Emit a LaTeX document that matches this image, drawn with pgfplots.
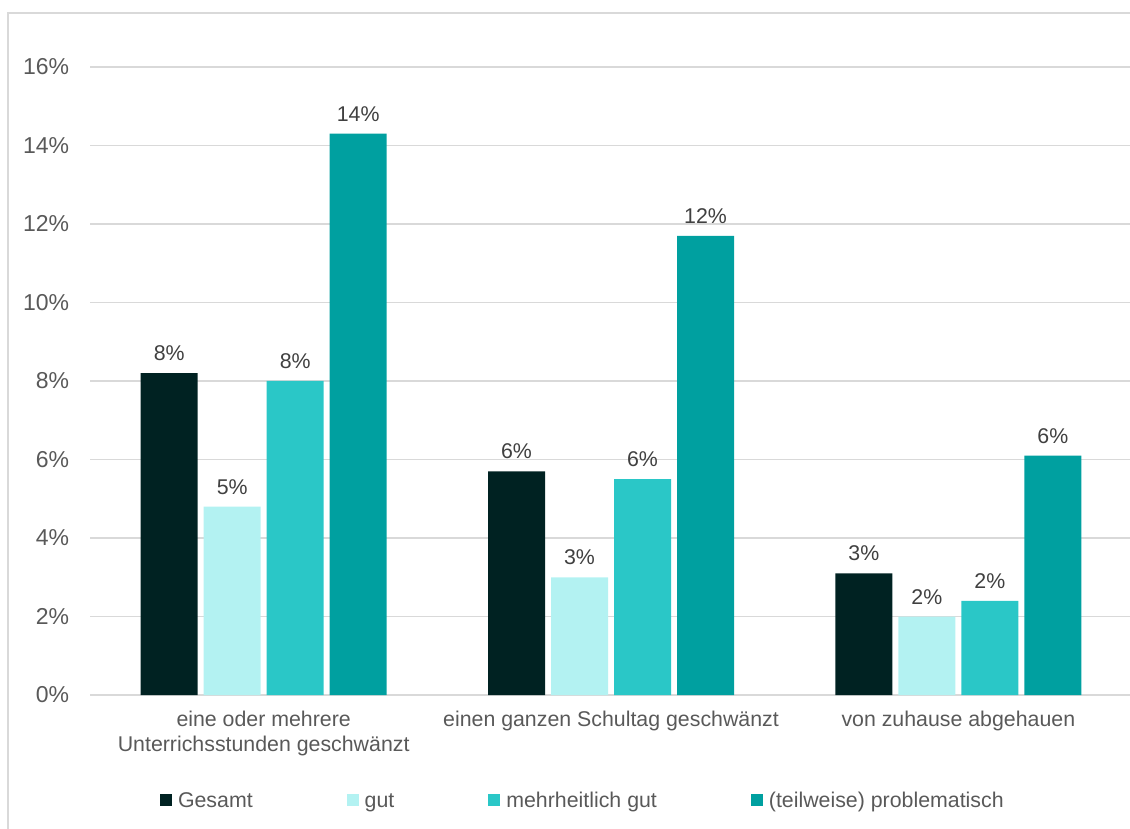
\documentclass[border=0pt]{standalone}
\usepackage{fontspec}
\setmainfont{Liberation Sans}
\usepackage{pgfplots}
\pgfplotsset{compat=1.18}
\definecolor{cGes}{HTML}{002222}
\definecolor{cGut}{HTML}{B3F2F2}
\definecolor{cMehr}{HTML}{2AC7C7}
\definecolor{cProb}{HTML}{00A0A0}
\definecolor{gridgray}{HTML}{D9D9D9}
\definecolor{txtgray}{HTML}{595959}
\definecolor{lblgray}{HTML}{404040}
\newcommand\chartfont{\fontsize{16pt}{18.75pt}\selectfont}
\newcommand\tickfont{\fontsize{17.25pt}{20pt}\selectfont}
\pgfplotsset{sqlegend/.style={legend image code/.code={\path[##1] (0pt,-4.5pt) rectangle (9pt,4.5pt);}}}
\begin{document}
\begin{tikzpicture}
\useasboundingbox (0,0) rectangle (847.5pt,621pt);
\draw[gridgray, line width=1pt] (6pt,-20pt) -- (6pt,611.25pt) -- (870pt,611.25pt);
\begin{axis}[
  at={(67.5pt,99.75pt)}, anchor=south west,
  scale only axis, width=781.5pt, height=471pt,
  xmin=-0.5, xmax=2.5, ymin=0, ymax=16,
  ybar=4.5pt, bar width=42.75pt,
  axis line style={draw=none},
  major tick length=0pt,
  ymajorgrids, grid style={gridgray, line width=1pt},
  ytick={0,2,4,6,8,10,12,14,16},
  yticklabels={0\%,2\%,4\%,6\%,8\%,10\%,12\%,14\%,16\%},
  yticklabel style={font=\tickfont, text=txtgray, inner sep=0pt, xshift=-15.5pt},
  xtick={0,1,2},
  xticklabels={{eine oder mehrere\\Unterrichsstunden geschwänzt},{einen ganzen Schultag geschwänzt},{von zuhause abgehauen}},
  xticklabel style={font=\chartfont, text=txtgray, align=center, inner sep=0pt, yshift=-12pt},
  point meta=explicit symbolic,
  nodes near coords,
  nodes near coords style={font=\chartfont, text=lblgray, anchor=south, inner sep=0pt, yshift=9pt},
  legend columns=4,
  legend style={draw=none, fill=none, inner sep=0pt, outer sep=0pt, column sep=0pt,
    nodes={inner sep=0pt, font=\chartfont, text=txtgray},
    at={(0.0672,-0.1672)}, anchor=west},
]
\addplot[fill=cGes, draw=none, sqlegend] coordinates {(0,8.2) [8\%] (1,5.7) [6\%] (2,3.1) [3\%]};
\addlegendentry{\strut\rule{4.5pt}{0pt}Gesamt\rule{70.5pt}{0pt}}
\addplot[fill=cGut, draw=none, sqlegend] coordinates {(0,4.8) [5\%] (1,3.0) [3\%] (2,2.0) [2\%]};
\addlegendentry{\strut\rule{4.5pt}{0pt}gut\rule{70.5pt}{0pt}}
\addplot[fill=cMehr, draw=none, sqlegend] coordinates {(0,8.0) [8\%] (1,5.5) [6\%] (2,2.4) [2\%]};
\addlegendentry{\strut\rule{4.5pt}{0pt}mehrheitlich gut\rule{70.5pt}{0pt}}
\addplot[fill=cProb, draw=none, sqlegend] coordinates {(0,14.3) [14\%] (1,11.7) [12\%] (2,6.1) [6\%]};
\addlegendentry{\strut\rule{4.5pt}{0pt}(teilweise) problematisch}
\end{axis}
\end{tikzpicture}
\end{document}
